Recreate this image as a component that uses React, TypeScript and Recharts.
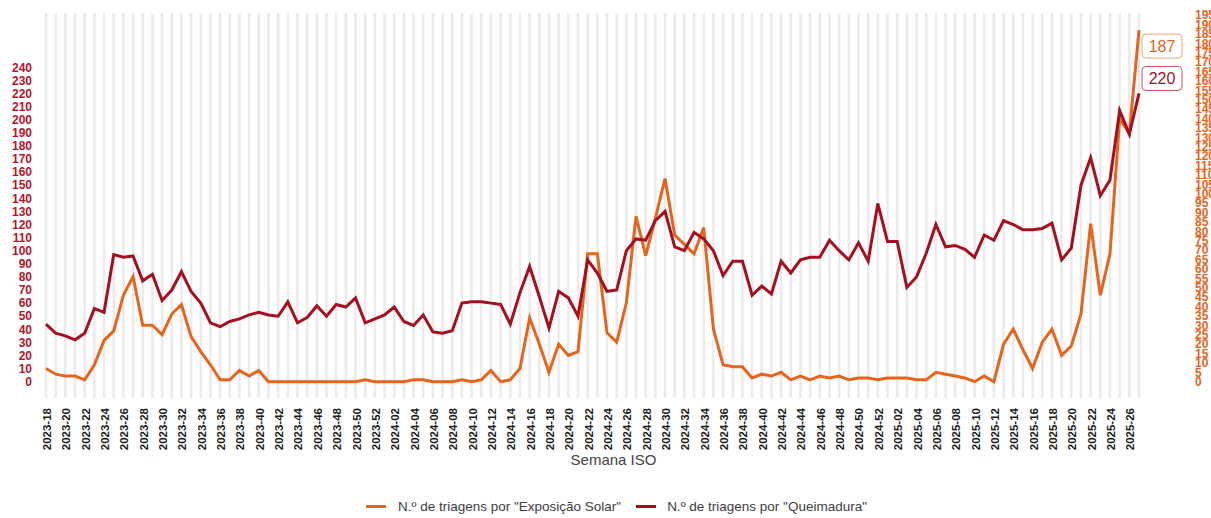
import React from 'react';
import { LineChart, Line, XAxis, YAxis, ReferenceLine, Legend, Label } from 'recharts';

// ISO weeks 2023-18 .. 2025-27
const weekRange = (year: number, from: number, to: number) => {
  const out: string[] = [];
  for (let w = from; w <= to; w++) out.push(`${year}-${String(w).padStart(2, '0')}`);
  return out;
};
const weeks = [...weekRange(2023, 18, 52), ...weekRange(2024, 1, 52), ...weekRange(2025, 1, 27)];

// N.º de triagens por "Exposição Solar" (right axis)
const exposicaoSolar = [
  7, 4, 3, 3, 1, 9, 22, 27, 46, 56, 30, 30, 25, 36, 41, 24, 16, 9, 1, 1, 6, 3, 6, 0, 0, 0, 0, 0, 0, 0,
  0, 0, 0, 1, 0, 0, 0, 0, 1, 1, 0, 0, 0, 1, 0, 1, 6, 0, 1, 7, 34, 20, 5, 20, 14, 16, 68, 68, 26,
  21, 42, 88, 67, 87, 108, 78, 73, 68, 82, 28, 9, 8, 8, 2, 4, 3, 5, 1, 3, 1, 3, 2, 3, 1, 2, 2, 1, 2,
  2, 2, 1, 1, 5, 4, 3, 2, 0, 3, 0, 20, 28, 17, 7, 21, 28, 14, 19, 36, 84, 46, 68, 140, 132, 187,
];

// N.º de triagens por "Queimadura" (left axis)
const queimadura = [
  44, 37, 35, 32, 37, 56, 53, 97, 95, 96, 77, 82, 62, 70, 84, 69, 60, 45, 42, 46, 48, 51, 53, 51, 50, 61, 45, 49, 58, 50,
  59, 57, 64, 45, 48, 51, 57, 46, 43, 51, 38, 37, 39, 60, 61, 61, 60, 59, 44, 68, 88, 65, 41, 69, 64, 50, 93, 83, 69,
  70, 100, 109, 108, 123, 130, 103, 100, 114, 109, 100, 81, 92, 92, 66, 73, 67, 92, 83, 93, 95, 95, 108, 100, 93, 106, 92, 136, 107,
  107, 72, 80, 98, 120, 103, 104, 101, 95, 112, 108, 123, 120, 116, 116, 117, 121, 93, 102, 150, 171, 142, 154, 207, 189, 220,
];

const leftTicks = [0, 10, 20, 30, 40, 50, 60, 70, 80, 90, 100, 110, 120, 130, 140, 150, 160, 170, 180, 190, 200, 210, 220, 230, 240];
const rightTicks = [
  0, 5, 10, 15, 20, 25, 30, 35, 40, 45, 50, 55, 60, 65, 70, 75, 80, 85, 90, 95,
  100, 105, 110, 115, 120, 125, 130, 135, 140, 145, 150, 155, 160, 165, 170, 175, 180, 185, 190, 195,
];

const chartData = weeks.map((week, i) => ({
  week,
  solar: exposicaoSolar[i],
  queimadura: queimadura[i],
}));

const ORANGE = '#E8641B';
const RED = '#A80F1E';
const FONT = '"Liberation Sans", Arial, sans-serif';

const WeekTick = ({ x, y, payload }: any) => (
  <text
    x={x + 1}
    y={y}
    transform={`rotate(-90, ${x + 1}, ${y})`}
    textAnchor="end"
    dominantBaseline="central"
    fontSize={11.5}
    fontWeight="bold"
    fill="#1a1a1a"
    fontFamily={FONT}
  >
    {payload.value}
  </text>
);

const endLabel = (color: string, border: string, dy: number) => (props: any) => {
  const { x, y, index, value } = props;
  if (index !== weeks.length - 1) return null;
  const cx = x + 23;
  const cy = y + dy;
  return (
    <g>
      <rect x={cx - 20} y={cy - 12} width={40} height={24} rx={4} fill="#fff" stroke={border} />
      <text x={cx} y={cy} textAnchor="middle" dominantBaseline="central" fill={color} fontSize={16} fontFamily={FONT}>
        {value}
      </text>
    </g>
  );
};

const LegendContent = () => (
  <div
    style={{
      display: 'flex',
      justifyContent: 'center',
      alignItems: 'center',
      height: 24,
      paddingLeft: 22,
      fontSize: 13.5,
      color: '#404040',
      fontFamily: FONT,
    }}
  >
    <span style={{ width: 20, height: 3, background: ORANGE, marginRight: 12 }} />
    <span>N.º de triagens por "Exposição Solar"</span>
    <span style={{ width: 20, height: 3, background: RED, marginLeft: 15, marginRight: 11 }} />
    <span>N.º de triagens por "Queimadura"</span>
  </div>
);

export default function App() {
  return (
    <div style={{ width: 1211, height: 518, fontFamily: FONT }}>
      <style>{'body{margin:0}'}</style>
      <LineChart width={1211} height={518} data={chartData} margin={{ top: 13, right: 0, bottom: 0, left: 0 }}>
        {weeks.map((w) => (
          <ReferenceLine key={w} x={w} yAxisId="left" stroke="#ebebeb" strokeWidth={2.5} />
        ))}
        <XAxis
          dataKey="week"
          interval={1}
          height={96}
          tickLine={false}
          axisLine={false}
          tickSize={0}
          tickMargin={10}
          tick={<WeekTick />}
        >
          <Label value="Semana ISO" position="insideBottom" offset={29} dx={21} fontSize={15} fill="#444" fontFamily={FONT} />
        </XAxis>
        <YAxis
          yAxisId="left"
          orientation="left"
          width={46}
          domain={[-12.4, 281.4]}
          ticks={leftTicks}
          interval={0}
          tickLine={false}
          axisLine={false}
          tickSize={0}
          tickMargin={14}
          tick={{ fontSize: 12, fontWeight: 'bold', fill: '#B5152B', fontFamily: FONT }}
        />
        <YAxis
          yAxisId="right"
          orientation="right"
          width={72}
          domain={[-8.67, 196.1]}
          ticks={rightTicks}
          interval={0}
          tickLine={false}
          axisLine={false}
          tickSize={0}
          tickMargin={56}
          tick={{ fontSize: 12, fontWeight: 'bold', fill: ORANGE, fontFamily: FONT, textAnchor: 'start' }}
        />
        <Line
          yAxisId="right"
          type="linear"
          dataKey="solar"
          stroke={ORANGE}
          strokeWidth={3}
          dot={false}
          isAnimationActive={false}
          label={endLabel(ORANGE, '#F0A070', 16)}
        />
        <Line
          yAxisId="left"
          type="linear"
          dataKey="queimadura"
          stroke={RED}
          strokeWidth={3}
          dot={false}
          isAnimationActive={false}
          label={endLabel(RED, '#C9505C', -15)}
        />
        <Legend verticalAlign="bottom" content={<LegendContent />} />
      </LineChart>
    </div>
  );
}
